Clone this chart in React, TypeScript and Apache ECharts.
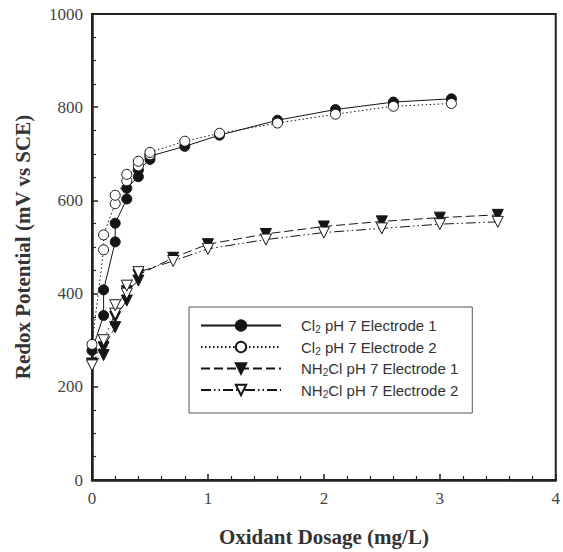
import React, { useEffect, useRef } from 'react';
import * as echarts from 'echarts';

// [dosage mg/L, redox potential mV]
const cl2Electrode1 = [
  [0, 278], [0.1, 353], [0.1, 408], [0.2, 511], [0.2, 551], [0.3, 603], [0.3, 626],
  [0.4, 651], [0.4, 665], [0.5, 688], [0.5, 695], [0.8, 716], [1.1, 740], [1.6, 772],
  [2.1, 795], [2.6, 811], [3.1, 818],
];
const cl2Electrode2 = [
  [0, 291], [0.1, 494], [0.1, 526], [0.2, 593], [0.2, 611], [0.3, 642], [0.3, 656],
  [0.4, 674], [0.4, 684], [0.5, 698], [0.5, 703], [0.8, 727], [1.1, 744], [1.6, 766],
  [2.1, 785], [2.6, 802], [3.1, 808],
];
const nh2clElectrode1 = [
  [0, 250], [0.1, 268], [0.1, 285], [0.2, 328], [0.2, 350], [0.3, 385], [0.3, 405],
  [0.4, 428], [0.4, 440], [0.7, 477], [1.0, 506], [1.5, 528], [2.0, 544], [2.5, 555],
  [3.0, 563], [3.5, 569],
];
const nh2clElectrode2 = [
  [0, 246], [0.1, 300], [0.2, 357], [0.2, 375], [0.3, 400], [0.3, 417], [0.4, 446],
  [0.7, 470], [1.0, 496], [1.5, 516], [2.0, 531], [2.5, 540], [3.0, 549], [3.5, 554],
];

const seriesNames = [
  'Cl2 pH 7 Electrode 1',
  'Cl2 pH 7 Electrode 2',
  'NH2Cl pH 7 Electrode 1',
  'NH2Cl pH 7 Electrode 2',
];

const xTitle = 'Oxidant Dosage (mg/L)';
const yTitle = 'Redox Potential (mV vs SCE)';

export default function App() {
  const ref = useRef<HTMLDivElement>(null);
  useEffect(() => {
    const chart = echarts.init(ref.current!, null, { renderer: 'svg' });
    const ink = '#151515';
    const serif = 'Liberation Serif';
    const sans = 'Liberation Sans';
    const filled = { color: ink, borderColor: ink, borderWidth: 1 };
    const open = { color: '#ffffff', borderColor: ink, borderWidth: 1 };
    chart.setOption({
      animation: false,
      backgroundColor: '#ffffff',
      grid: {
        left: 92, right: 3, top: 14, bottom: 70,
        show: true, borderColor: '#222', borderWidth: 2, backgroundColor: 'transparent',
      },
      legend: {
        orient: 'vertical',
        left: 189, top: 307,
        itemWidth: 80, itemHeight: 13, itemGap: 5,
        padding: [11, 14, 14, 11],
        borderColor: '#555', borderWidth: 1,
        backgroundColor: '#fff',
        data: seriesNames,
        formatter: (name: string) =>
          name.replace(/^(Cl|NH)2(.*)$/, (_m: string, a: string, b: string) => `{t|${a}}{s|2}{t|${b}}`),
        textStyle: {
          fontFamily: sans, fontSize: 15, color: '#333',
          padding: [0, 0, 0, 15],
          rich: {
            t: { fontFamily: sans, fontSize: 15, color: '#333', lineHeight: 18 },
            s: { fontFamily: sans, fontSize: 10, color: '#333', lineHeight: 8, verticalAlign: 'bottom' },
          },
        },
      },
      xAxis: {
        type: 'value', min: 0, max: 4, interval: 1,
        name: xTitle, nameLocation: 'middle', nameGap: 46,
        nameTextStyle: { fontFamily: serif, fontWeight: 'bold', fontSize: 21, color: '#333' },
        axisLine: { show: true, onZero: false, lineStyle: { color: '#222', width: 2.5 } },
        axisTick: { show: true, inside: true, length: 6, lineStyle: { color: '#222', width: 1.5 } },
        minorTick: { show: true, splitNumber: 5, length: 4, lineStyle: { color: '#222', width: 1.2 } },
        axisLabel: {
          fontFamily: serif, fontSize: 17, color: '#444', margin: 10,
          formatter: (v: number) => String(v),
        },
        splitLine: { show: false },
      },
      yAxis: {
        type: 'value', min: 0, max: 1000, interval: 200,
        name: yTitle, nameLocation: 'middle', nameGap: 59,
        nameTextStyle: { fontFamily: serif, fontWeight: 'bold', fontSize: 21, color: '#333', padding: [0, 0, 0, 0] },
        axisLine: { show: true, onZero: false, lineStyle: { color: '#222', width: 2.5 } },
        axisTick: { show: true, inside: true, length: 6, lineStyle: { color: '#222', width: 1.5 } },
        minorTick: { show: true, splitNumber: 4, length: 4, lineStyle: { color: '#222', width: 1.2 } },
        axisLabel: {
          fontFamily: serif, fontSize: 17, color: '#444', margin: 9,
          formatter: (v: number) => String(v),
        },
        splitLine: { show: false },
      },
      series: [
        {
          name: seriesNames[0], type: 'line', data: cl2Electrode1,
          symbol: 'circle', symbolSize: 10,
          lineStyle: { color: ink, width: 1, type: 'solid' },
          itemStyle: filled,
        },
        {
          name: seriesNames[1], type: 'line', data: cl2Electrode2,
          symbol: 'circle', symbolSize: 10,
          lineStyle: { color: ink, width: 1, type: [1.5, 2.5] },
          itemStyle: open,
        },
        {
          name: seriesNames[2], type: 'line', data: nh2clElectrode1,
          symbol: 'triangle', symbolSize: 11, symbolRotate: 180,
          lineStyle: { color: ink, width: 1, type: [9, 4] },
          itemStyle: filled,
        },
        {
          name: seriesNames[3], type: 'line', data: nh2clElectrode2,
          symbol: 'triangle', symbolSize: 11, symbolRotate: 180,
          lineStyle: { color: ink, width: 1, type: [10, 3, 1.5, 3, 1.5, 3] },
          itemStyle: open,
        },
      ],
    });
    return () => chart.dispose();
  }, []);
  return (
    <div
      ref={ref}
      style={{ position: 'fixed', left: 0, top: 0, width: 563, height: 552, background: '#fff' }}
    />
  );
}
